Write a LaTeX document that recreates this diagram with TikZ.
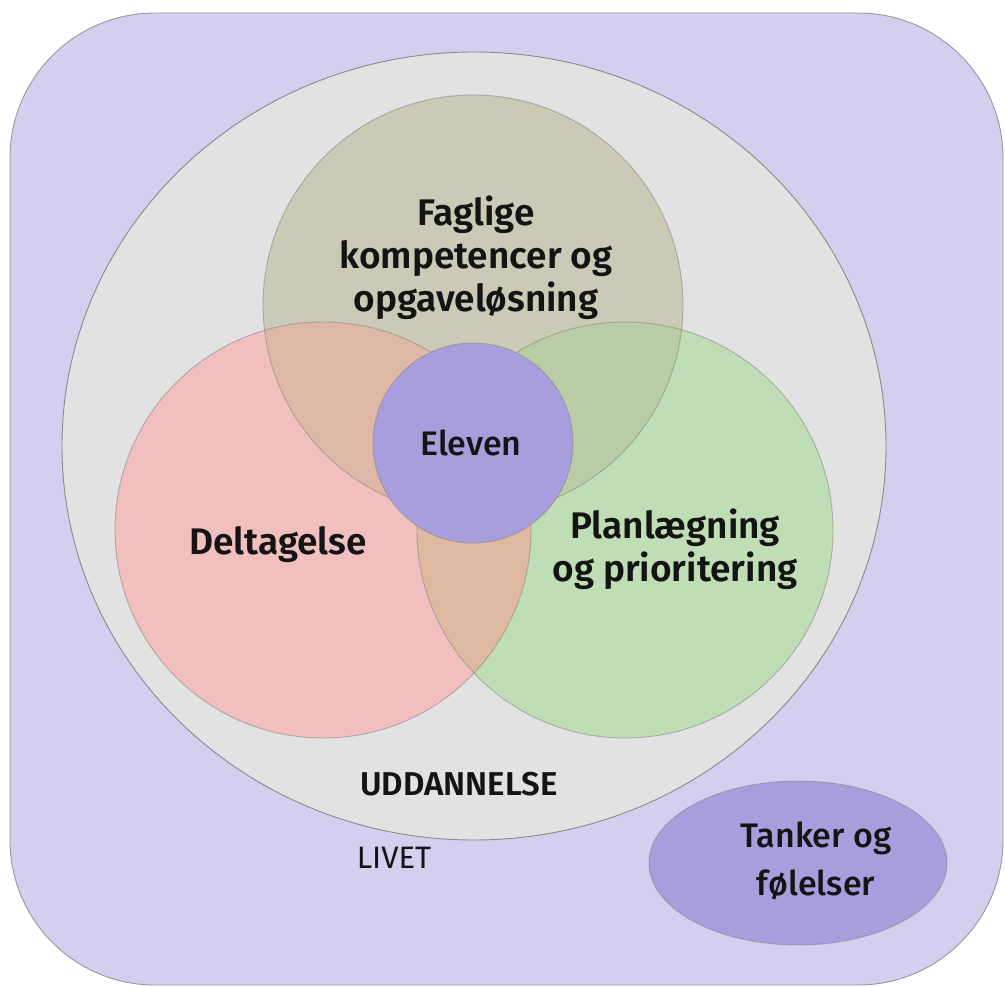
\documentclass[tikz,border=0pt]{standalone}
\usepackage{fontspec}
\setmainfont{Fira Sans}
\newfontfamily\semifont{Fira Sans SemiBold}
\newfontfamily\medfont{Fira Sans Medium}
\definecolor{livbg}{HTML}{D5CEEE}
\definecolor{uddbg}{HTML}{E2E2E2}
\definecolor{topc}{HTML}{CACAB6}
\definecolor{pinkc}{HTML}{F2BFBF}
\definecolor{greenc}{HTML}{BFDEB5}
\definecolor{pinktop}{HTML}{DFB7A7}
\definecolor{greentop}{HTML}{B9CCA5}
\definecolor{pinkgreen}{HTML}{DFB8A0}
\definecolor{elevc}{HTML}{A99EDD}
\definecolor{edgec}{HTML}{8A8A8A}
\definecolor{txt}{HTML}{141414}
\tikzset{
  edge/.style={draw=edgec, line width=0.9pt},
  bigtxt/.style={font=\semifont\fontsize{37}{43}\selectfont, text=txt, align=center, inner sep=0pt},
  midtxt/.style={font=\medfont\fontsize{34}{48}\selectfont, text=txt, align=center, inner sep=0pt},
  capstxt/.style={font=\semifont\fontsize{33}{40}\selectfont, text=txt, align=center, inner sep=0pt},
  smalltxt/.style={font=\fontsize{31}{36}\selectfont, text=txt, align=center, inner sep=0pt}
}
\begin{document}
\begin{tikzpicture}[x=1pt,y=-1pt]
\useasboundingbox (0,0) rectangle (1005,987);
% LIVET frame
\filldraw[fill=livbg, draw=edgec!80!livbg, line width=0.9pt, rounded corners=145pt] (10,13) rectangle (1003,985);
% UDDANNELSE ellipse
\filldraw[fill=uddbg, edge] (474,446) ellipse [x radius=412pt, y radius=394pt];
% three circles
\fill[topc] (473,305) circle [radius=210pt];
\fill[pinkc] (323,530) circle [radius=208pt];
\fill[greenc] (625,530) circle [radius=208pt];
\begin{scope}
  \clip (473,305) circle [radius=210pt];
  \fill[pinktop] (323,530) circle [radius=208pt];
  \fill[greentop] (625,530) circle [radius=208pt];
\end{scope}
\begin{scope}
  \clip (323,530) circle [radius=208pt];
  \fill[pinkgreen] (625,530) circle [radius=208pt];
\end{scope}
\draw[edge, draw opacity=0.6] (473,305) circle [radius=210pt];
\draw[edge, draw opacity=0.6] (323,530) circle [radius=208pt];
\draw[edge, draw opacity=0.6] (625,530) circle [radius=208pt];
% Eleven
\filldraw[fill=elevc, edge, draw opacity=0.6] (473,443) circle [radius=100pt];
% Tanker ellipse
\filldraw[fill=elevc, edge, draw opacity=0.6] (798,863) ellipse [x radius=149pt, y radius=82pt];
% texts
\node[bigtxt] (fag) at (476,258) {Faglige\\kompetencer og\\opgaveløsning};
\node[bigtxt] (del) at (278,545) {Deltagelse};
\node[bigtxt] (plan) at (675,549) {Planlægning\\og prioritering};
\node[midtxt] (elev) at (471,443) {Eleven};
\node[capstxt] (udd) at (459,784) {UDDANNELSE};
\node[smalltxt] (liv) at (394,858) {LIVET};
\node[midtxt] (tank) at (816,861) {Tanker og\\følelser};
\end{tikzpicture}
\end{document}
